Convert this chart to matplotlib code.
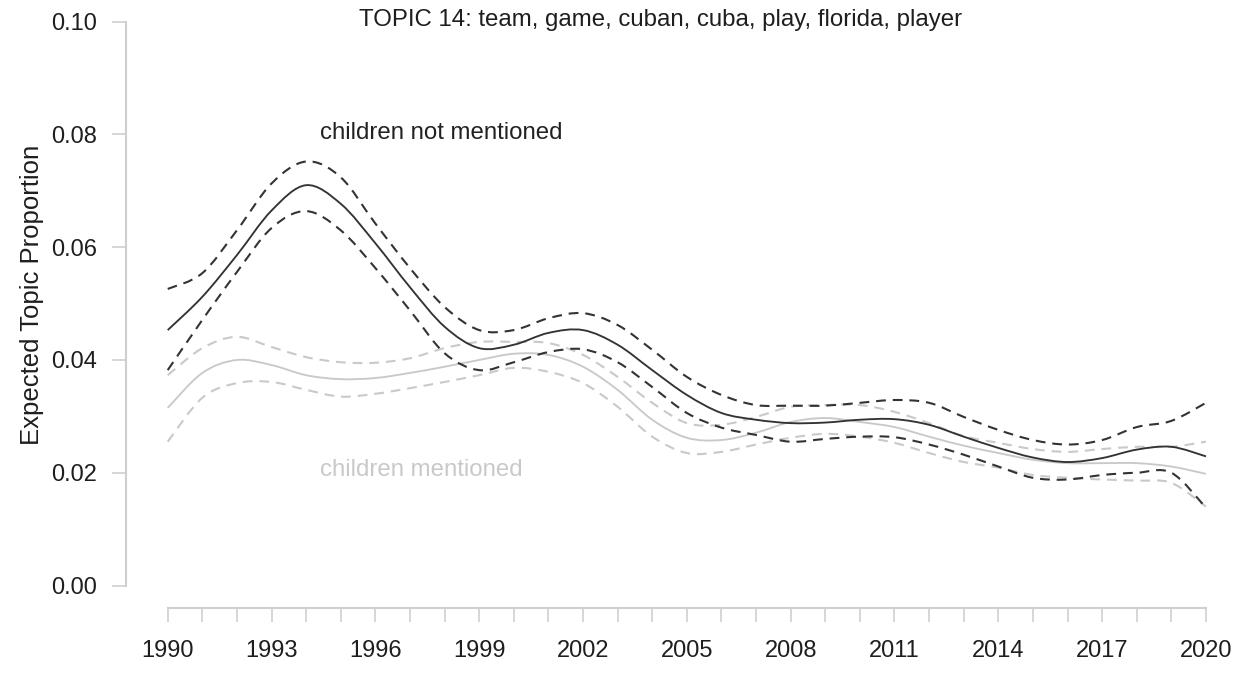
import numpy as np
import matplotlib
matplotlib.use("Agg")
import matplotlib.pyplot as plt
from matplotlib.path import Path
from matplotlib.patches import PathPatch

plt.rcParams["font.family"] = ["Liberation Sans", "DejaVu Sans"]

years = list(range(1990, 2021))
tick_years = list(range(1990, 2021, 3))
y_ticks = [0.00, 0.02, 0.04, 0.06, 0.08, 0.10]

# Expected topic proportion, articles where children are not mentioned
not_mentioned_mean = [0.0453, 0.0512, 0.0586, 0.0665, 0.0710, 0.0677, 0.0607, 0.0529,
                      0.0459, 0.0421, 0.0427, 0.0448, 0.0453, 0.0427, 0.0382, 0.0338,
                      0.0306, 0.0294, 0.0288, 0.0289, 0.0294, 0.0295, 0.0285, 0.0264,
                      0.0244, 0.0227, 0.0219, 0.0226, 0.0241, 0.0246, 0.0229]
not_mentioned_upper = [0.0526, 0.0554, 0.0630, 0.0713, 0.0752, 0.0724, 0.0642, 0.0563,
                       0.0494, 0.0453, 0.0453, 0.0474, 0.0483, 0.0462, 0.0418, 0.0370,
                       0.0338, 0.0320, 0.0319, 0.0319, 0.0324, 0.0329, 0.0324, 0.0299,
                       0.0276, 0.0258, 0.0250, 0.0258, 0.0281, 0.0292, 0.0324]
not_mentioned_lower = [0.0382, 0.0471, 0.0556, 0.0634, 0.0664, 0.0630, 0.0563, 0.0488,
                       0.0412, 0.0382, 0.0396, 0.0414, 0.0419, 0.0396, 0.0352, 0.0306,
                       0.0280, 0.0267, 0.0255, 0.0260, 0.0264, 0.0263, 0.0250, 0.0232,
                       0.0211, 0.0191, 0.0188, 0.0196, 0.0200, 0.0200, 0.0138]

# Expected topic proportion, articles where children are mentioned
mentioned_mean = [0.0315, 0.0377, 0.0400, 0.0391, 0.0373, 0.0366, 0.0368, 0.0377,
                  0.0388, 0.0400, 0.0411, 0.0409, 0.0388, 0.0347, 0.0294, 0.0262,
                  0.0258, 0.0271, 0.0290, 0.0297, 0.0290, 0.0281, 0.0264, 0.0248,
                  0.0235, 0.0223, 0.0217, 0.0217, 0.0217, 0.0211, 0.0198]
mentioned_upper = [0.0373, 0.0421, 0.0441, 0.0423, 0.0405, 0.0396, 0.0395, 0.0403,
                   0.0421, 0.0432, 0.0432, 0.0430, 0.0409, 0.0370, 0.0324, 0.0288,
                   0.0285, 0.0299, 0.0317, 0.0320, 0.0320, 0.0308, 0.0288, 0.0265,
                   0.0253, 0.0242, 0.0237, 0.0242, 0.0246, 0.0246, 0.0255]
mentioned_lower = [0.0255, 0.0333, 0.0359, 0.0361, 0.0347, 0.0335, 0.0340, 0.0350,
                   0.0361, 0.0373, 0.0386, 0.0379, 0.0359, 0.0317, 0.0264, 0.0235,
                   0.0237, 0.0250, 0.0262, 0.0269, 0.0264, 0.0253, 0.0235, 0.0219,
                   0.0209, 0.0196, 0.0191, 0.0188, 0.0186, 0.0182, 0.0140]

title = "TOPIC 14: team, game, cuban, cuba, play, florida, player"
y_label = "Expected Topic Proportion"
label_not = "children not mentioned"
label_yes = "children mentioned"

DARK = "#333333"
LIGHT = "#c9c9c9"
AXIS = "#cfcfcf"


def smooth_path(xs, ys):
    """Cubic Bezier path passing through every (x, y) point (Catmull-Rom tangents)."""
    pts = np.column_stack([xs, ys]).astype(float)
    n = len(pts)
    verts = [pts[0]]
    codes = [Path.MOVETO]
    for i in range(n - 1):
        p0 = pts[i - 1] if i > 0 else pts[i]
        p1 = pts[i]
        p2 = pts[i + 1]
        p3 = pts[i + 2] if i + 2 < n else pts[i + 1]
        c1 = p1 + (p2 - p0) / 6.0
        c2 = p2 - (p3 - p1) / 6.0
        verts += [c1, c2, p2]
        codes += [Path.CURVE4] * 3
    return Path(verts, codes)


fig = plt.figure(figsize=(12.48, 6.73), dpi=100)
ax = fig.add_axes([0.1011, 0.0965, 0.8985, 0.9048])
ax.set_xlim(1988.8, 2021.2)
ax.set_ylim(-0.004, 0.104)

series = [
    (mentioned_upper, LIGHT, "dashed", 1.5),
    (mentioned_lower, LIGHT, "dashed", 1.5),
    (mentioned_mean, LIGHT, "solid", 1.35),
    (not_mentioned_upper, DARK, "dashed", 1.5),
    (not_mentioned_lower, DARK, "dashed", 1.5),
    (not_mentioned_mean, DARK, "solid", 1.35),
]
for vals, color, style, lw in series:
    patch = PathPatch(smooth_path(years, vals), facecolor="none", edgecolor=color,
                      linewidth=lw, capstyle="butt")
    if style == "dashed":
        patch.set_linestyle((0, (4.7, 3.3)))
    ax.add_patch(patch)

ax.text(1994.4, 0.0802, label_not, color="#222222", fontsize=17.3, ha="left", va="center")
ax.text(1994.4, 0.0205, label_yes, color=LIGHT, fontsize=17.3, ha="left", va="center")

# R-style detached axes
for side in ("top", "right"):
    ax.spines[side].set_visible(False)
for side in ("left", "bottom"):
    ax.spines[side].set_color(AXIS)
    ax.spines[side].set_linewidth(1.5)
ax.spines["left"].set_bounds(0, 0.10)
ax.spines["bottom"].set_bounds(1990, 2020)

ax.set_yticks(y_ticks)
ax.set_yticklabels([f"{v:.2f}" for v in y_ticks])
ax.set_xticks(years, minor=True)
ax.set_xticks(tick_years)
ax.set_xticklabels([str(y) for y in tick_years])
ax.tick_params(axis="y", length=10, width=1.2, color=AXIS, pad=11, labelsize=17,
               labelcolor="#1e1e1e")
ax.tick_params(axis="x", which="both", length=10, width=1.2, color=AXIS, pad=13,
               labelsize=17, labelcolor="#1e1e1e")
ax.tick_params(axis="x", which="minor", labelbottom=False)

fig.text(32 / 1248, 1 - 295 / 673, y_label, rotation=90, ha="center", va="center",
         fontsize=18.5, color="#1e1e1e")
fig.text(661 / 1248, 1 - 20 / 673, title, ha="center", va="center", fontsize=17.3,
         color="#1e1e1e")

fig.savefig("out.png", dpi=100, facecolor="white")
